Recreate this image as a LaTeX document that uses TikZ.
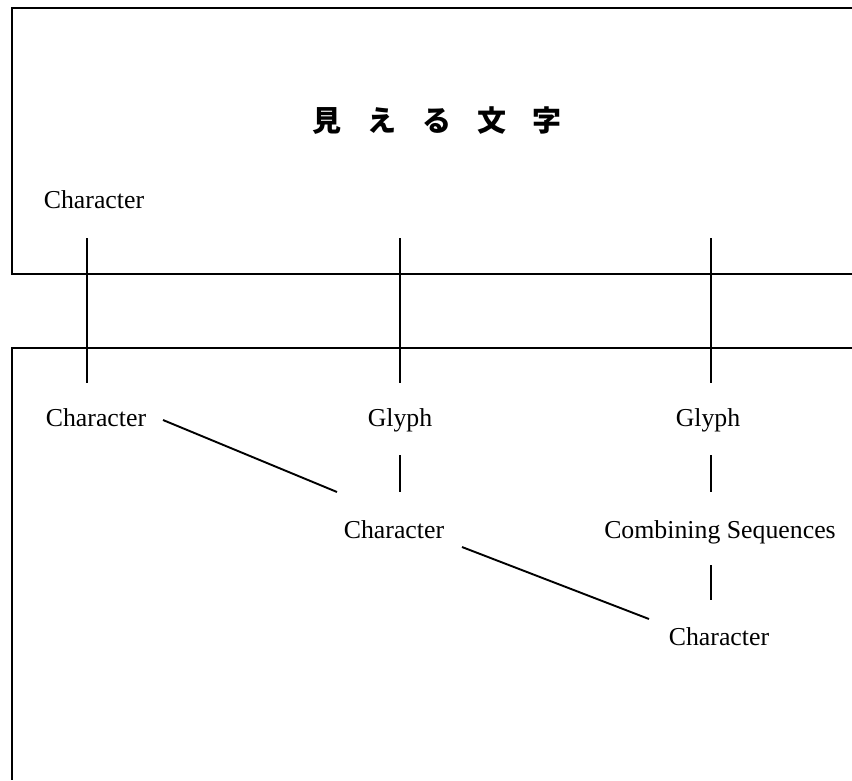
\documentclass[tikz,border=0pt]{standalone}
\usepackage{fontspec}
\setmainfont{Liberation Serif}
\newfontfamily\jpfont{Noto Sans CJK JP}
\begin{document}
\begin{tikzpicture}[x=1pt,y=-1pt,
  lbl/.style={inner sep=0pt,font=\fontsize{25.8}{30}\selectfont},
  ttl/.style={inner sep=0pt,font=\jpfont\bfseries\fontsize{29}{32}\selectfont},
  ln/.style={line width=1.9pt},
  frame/.style={line width=2.2pt}]
\useasboundingbox (0,0) rectangle (852,780);
% frames
\draw[frame] (852,8) -- (12,8) -- (12,274) -- (852,274);
\draw[frame] (852,348) -- (12,348) -- (12,780);
% title
\node[ttl] (title) at (437,121) {見\hspace{26pt}え\hspace{26pt}る\hspace{26pt}文\hspace{26pt}字};
% labels
\node[lbl] (ctop) at (94,200) {Character};
\node[lbl] (c1) at (96,418) {Character};
\node[lbl] (g2) at (400,420) {Glyph};
\node[lbl] (g3) at (708,420) {Glyph};
\node[lbl] (c2) at (394,530) {Character};
\node[lbl] (cs) at (720,532) {Combining Sequences};
\node[lbl] (c3) at (719,637) {Character};
% connector end points
\coordinate (v1a) at (87,238);  \coordinate (v1b) at (87,383);
\coordinate (v2a) at (400,238); \coordinate (v2b) at (400,383);
\coordinate (v3a) at (711,238); \coordinate (v3b) at (711,383);
\coordinate (d1a) at (163,420); \coordinate (d1b) at (337,492);
\coordinate (d2a) at (462,547); \coordinate (d2b) at (649,619);
\coordinate (g2a) at (400,455); \coordinate (g2b) at (400,492);
\coordinate (g3a) at (711,455); \coordinate (g3b) at (711,492);
\coordinate (s3a) at (711,565); \coordinate (s3b) at (711,600);
% connectors
\draw[ln] (v1a) -- (v1b);
\draw[ln] (v2a) -- (v2b);
\draw[ln] (v3a) -- (v3b);
\draw[ln] (d1a) -- (d1b);
\draw[ln] (d2a) -- (d2b);
\draw[ln] (g2a) -- (g2b);
\draw[ln] (g3a) -- (g3b);
\draw[ln] (s3a) -- (s3b);
\end{tikzpicture}
\end{document}
